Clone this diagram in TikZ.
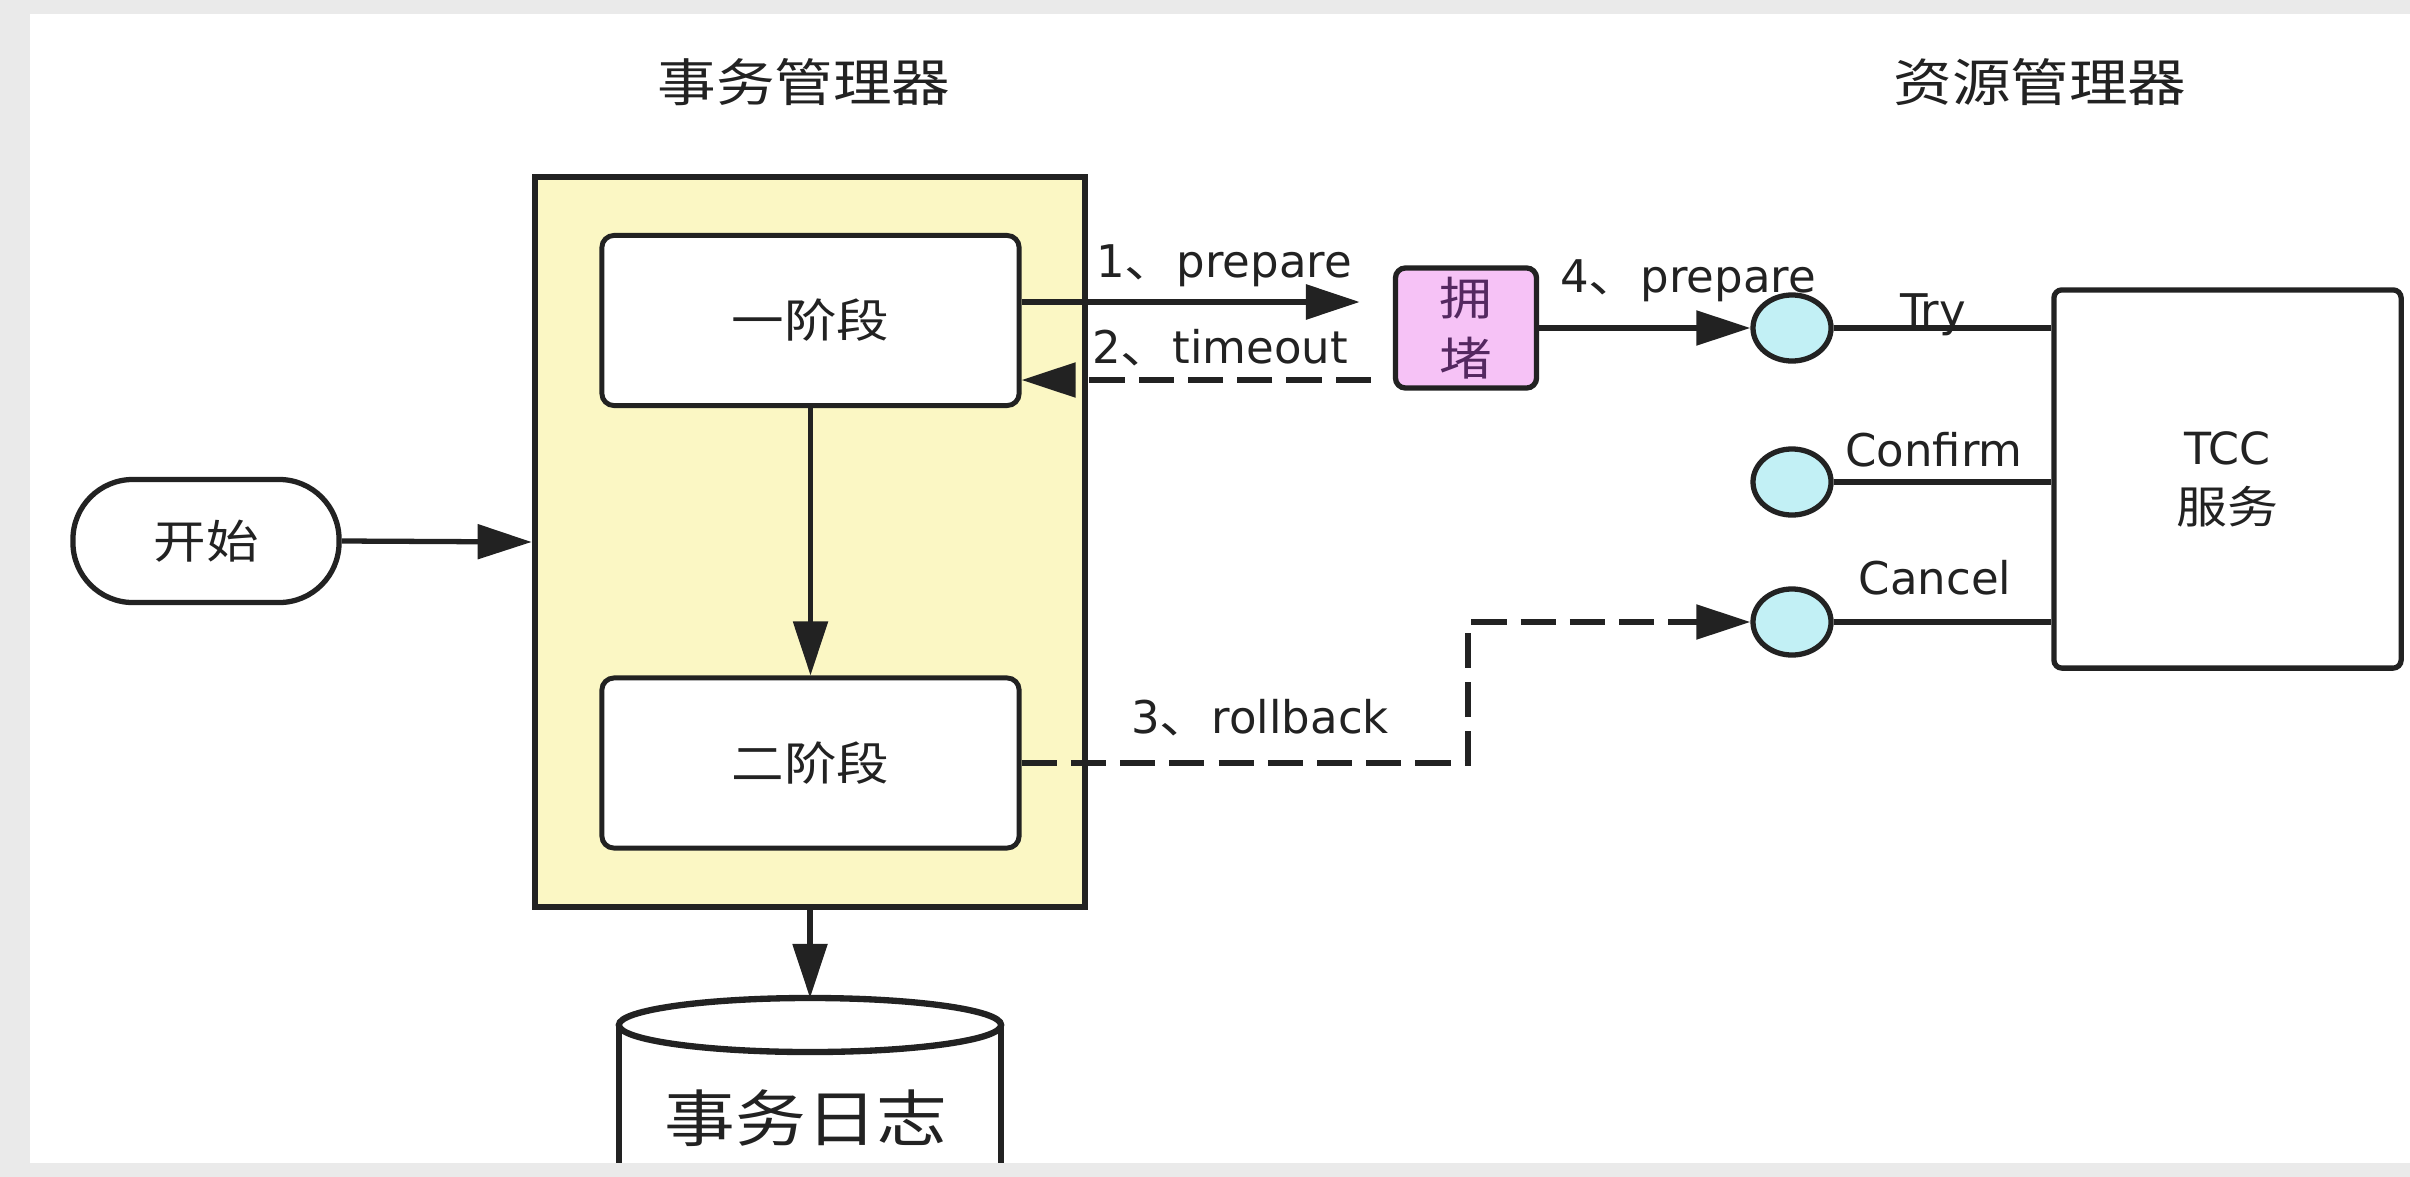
\documentclass[tikz,border=0pt]{standalone}
\usepackage{fontspec}
\setmainfont{DejaVu Sans}
\newfontfamily\cjk[FakeStretch=1.15]{Noto Sans CJK SC}
\usetikzlibrary{arrows.meta,shapes.geometric}
\definecolor{framegray}{RGB}{234,234,234}
\definecolor{yellowfill}{RGB}{251,247,196}
\definecolor{cyanfill}{RGB}{194,240,245}
\definecolor{pinkfill}{RGB}{246,194,246}
\definecolor{crowdtext}{RGB}{84,40,96}
\definecolor{ink}{RGB}{34,34,34}
\tikzset{
  lbl/.style={font=\fontsize{12.8}{15}\selectfont, text=ink, inner sep=0pt},
  title/.style={font=\cjk\fontsize{14.5}{17}\selectfont, text=ink},
  phase/.style={draw=ink, line width=1.4pt, fill=white, rounded corners=0.12cm,
    minimum width=4.17cm, minimum height=1.70cm, inner sep=0pt,
    font=\cjk\fontsize{13}{15}\selectfont, text=ink},
  port/.style={ellipse, draw=ink, line width=1.5pt, fill=cyanfill,
    minimum width=0.78cm, minimum height=0.66cm, inner sep=0pt},
  arr/.style={draw=ink, line width=1.5pt, -{Triangle[length=0.54cm,width=0.34cm]}},
  darr/.style={arr, dash pattern=on 10pt off 4pt},
  plain/.style={draw=ink, line width=1.5pt},
}
\begin{document}
\begin{tikzpicture}[x=0.01cm, y=-0.01cm]
\useasboundingbox (0,0) rectangle (2410,1176);
\clip (0,0) rectangle (2410,1176);
\fill[framegray] (0,0) rectangle (2410,1176);
\fill[white] (30,14) rectangle (2410,1163);

% titles
\node[title] (t1) at (804,82) {事务管理器};
\node[title] (t2) at (2040,82) {资源管理器};

% transaction manager container
\node[draw=ink, line width=1.8pt, fill=yellowfill, minimum width=5.5cm,
      minimum height=7.3cm, inner sep=0pt] (tm) at (810,542) {};
\node[phase] (p1) at (810.5,320.5) {一阶段};
\node[phase] (p2) at (810.5,763) {二阶段};

% start
\node[draw=ink, line width=1.5pt, fill=white, rounded corners=0.6cm,
      minimum width=2.66cm, minimum height=1.23cm, inner sep=0pt,
      font=\cjk\fontsize{13}{15}\selectfont, text=ink] (start) at (206,541) {开始};

% crowd box
\node[draw=ink, line width=1.5pt, fill=pinkfill, rounded corners=0.1cm,
      minimum width=1.41cm, minimum height=1.20cm, inner sep=0pt, align=center,
      font=\cjk\fontsize{13}{17}\selectfont, text=crowdtext] (crowd) at (1466,328) {拥\\堵};

% TCC service
\node[draw=ink, line width=1.5pt, fill=white, rounded corners=0.08cm,
      minimum width=3.47cm, minimum height=3.78cm, inner sep=0pt, align=center,
      font=\fontsize{12.6}{16.8}\selectfont, text=ink] (tcc) at (2227.5,479) {TCC\\{\cjk 服务}};

% ports
\node[port] (try) at (1792,328) {};
\node[port] (confirm) at (1792,482) {};
\node[port] (cancel) at (1792,622) {};

% log cylinder
\draw[draw=ink, line width=1.5pt, fill=white] (619,1025) -- (619,1250) -- (1001,1250) -- (1001,1025);
\draw[draw=ink, line width=1.8pt, fill=white] (810,1025) ellipse [x radius=1.91cm, y radius=0.27cm];
\node[font=\cjk\fontsize{17.5}{20}\selectfont, text=ink] (log) at (806,1118) {事务日志};
\coordinate (logtop) at (810,998);

% helper rows
\coordinate (r1) at (0,302);
\coordinate (r2) at (0,380);
\coordinate (rb) at (1468,0);

% connectors
\draw[arr] (start.east) -- (tm.west);
\draw[arr] (p1.south) -- (p2.north);
\draw[arr] (tm.south) -- (logtop);
\draw[arr, line width=1.8pt, shorten >=0.33cm] (p1.east |- r1) -- (crowd.west |- r1);
\draw[darr, shorten <=0.22cm] (crowd.west |- r2) -- (p1.east |- r2);
\draw[arr] (crowd.east) -- (try.west);
\draw[darr] (p2.east) -- (p2.east -| rb) |- (cancel.west);
\draw[plain] (try.east) -- (try.east -| tcc.west);
\draw[plain] (confirm.east) -- (confirm.east -| tcc.west);
\draw[plain] (cancel.east) -- (cancel.east -| tcc.west);

% labels
\node[lbl, anchor=base] (l1) at (1224,277) {1{\cjk 、}prepare};
\node[lbl, anchor=base] (l2) at (1220,363) {2{\cjk 、}timeout};
\node[lbl, anchor=base] (l4) at (1688,292) {4{\cjk 、}prepare};
\node[lbl, anchor=base] (l3) at (1260,733) {3{\cjk 、}rollback};
\node[lbl, anchor=base] (lt) at (1933,326) {Try};
\node[lbl, anchor=base] (lc) at (1934,466) {Confirm};
\node[lbl, anchor=base] (lx) at (1935,594) {Cancel};

% bottom frame bar over the cylinder
\fill[framegray] (0,1163) rectangle (2410,1260);
\end{tikzpicture}
\end{document}
